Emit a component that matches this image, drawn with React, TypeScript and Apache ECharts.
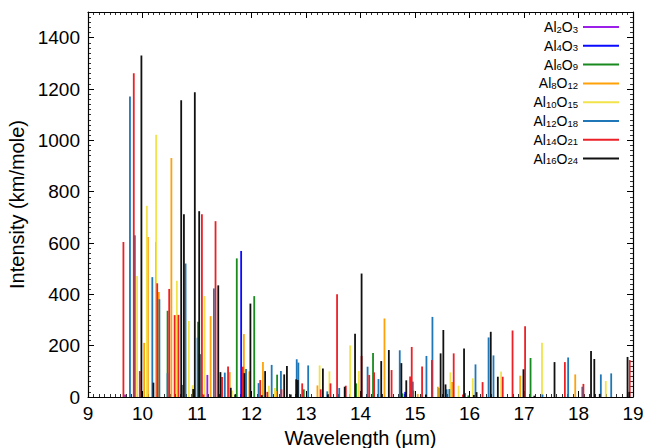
import React, { useEffect, useRef } from "react";
import * as echarts from "echarts";

const FONT = "'Liberation Sans', Arial, Helvetica, sans-serif";

const seriesNames = ["Al2O3", "Al4O3", "Al6O9", "Al8O12", "Al10O15", "Al12O18", "Al14O21", "Al16O24"];
const seriesColors = ["#9b1fe8", "#0a0aff", "#188a1e", "#ffa20a", "#f2e34a", "#1f77b8", "#ec2127", "#111111"];

const xTicks = { min: 9, max: 19, interval: 1 };
const yTicks = { min: 0, max: 1500, interval: 200 };

const al2o3: number[][] = [[9.68, 10], [11.19, 86]];
const al4o3: number[][] = [[11.81, 569], [14.82, 20]];
const al6o9: number[][] = [
  [10.25, 604], [10.46, 336], [11.02, 293], [11.73, 540], [12.05, 393], [12.47, 87], [12.96, 30],
  [13.92, 53], [14.23, 171], [14.77, 14], [14.97, 25], [15.43, 35], [15.98, 6], [17.12, 152],
];
const al8o12: number[][] = [
  [10.03, 211], [10.1, 623], [10.3, 409], [10.53, 931], [11.25, 315], [11.6, 97], [11.86, 245],
  [11.96, 100], [12.21, 136], [12.45, 23], [13.21, 45], [14.44, 306], [15.05, 12], [15.42, 40],
  [15.68, 58], [16.93, 83], [17.94, 88],
];
const al10o15: number[][] = [
  [9.9, 471], [10.08, 745], [10.25, 1022], [10.63, 453], [10.85, 296], [10.92, 46], [11.14, 393],
  [11.64, 25], [12.32, 44], [12.43, 35], [13.25, 123], [13.43, 100], [13.81, 201], [13.97, 101],
  [15.65, 96], [15.8, 44], [16.06, 73], [16.58, 99], [17.33, 211], [18.5, 62],
];
const al12o18: number[][] = [
  [9.77, 1171], [9.86, 630], [10.18, 467], [10.31, 381], [10.46, 93], [10.79, 520], [11.01, 231],
  [11.31, 423], [11.51, 95], [11.9, 109], [12.13, 54], [12.37, 125], [12.54, 101], [12.83, 147],
  [12.86, 134], [13.04, 123], [13.39, 22], [13.61, 35], [14.13, 118], [14.33, 70], [14.72, 182],
  [14.96, 60], [15.21, 160], [15.32, 312], [15.58, 30], [15.63, 31], [15.92, 15], [16.11, 127],
  [16.35, 232], [16.44, 162], [17.34, 10], [17.81, 154], [18.07, 40], [18.41, 88], [18.6, 92],
];
const al14o21: number[][] = [
  [9.65, 604], [9.84, 1261], [9.95, 101], [10.27, 443], [10.49, 421], [10.59, 319], [10.66, 320],
  [11.09, 712], [11.12, 10], [11.34, 685], [11.46, 78], [11.57, 119], [11.84, 118], [12.16, 66],
  [12.29, 20], [12.55, 30], [12.93, 53], [13.27, 30], [13.45, 53], [13.57, 400], [13.73, 44],
  [14.02, 160], [14.16, 86], [14.25, 96], [14.57, 105], [14.91, 80], [14.94, 195], [15.13, 119],
  [15.31, 144], [15.71, 170], [15.88, 10], [16.24, 58], [16.61, 79], [16.79, 259], [17.02, 276],
  [17.75, 136], [18.09, 51], [18.94, 144],
];
const al16o24: number[][] = [
  [9.98, 1331], [10.2, 56], [10.71, 1156], [10.72, 47], [10.76, 712], [10.93, 31], [10.96, 1187],
  [11.04, 724], [11.05, 167], [11.39, 435], [11.43, 97], [11.62, 36], [11.7, 10], [11.87, 93],
  [11.98, 364], [12.19, 7], [12.25, 101], [12.6, 88], [12.65, 121], [12.72, 10], [12.82, 69],
  [12.85, 66], [13.31, 111], [13.4, 10], [13.71, 40], [13.9, 246], [14.02, 481], [14.38, 140],
  [14.52, 183], [14.75, 132], [14.84, 65], [15.2, 10], [15.47, 170], [15.52, 261], [15.56, 49],
  [15.9, 189], [16.08, 8], [16.13, 19], [16.39, 254], [16.52, 79], [16.99, 108], [17.19, 5],
  [17.56, 136], [18.23, 179], [18.29, 148], [18.39, 12], [18.9, 156], [18.93, 20],
];

const seriesData = [al2o3, al4o3, al6o9, al8o12, al10o15, al12o18, al14o21, al16o24];

function formulaRich(name: string): string {
  const parts = name.match(/[A-Za-z]+|\d+/g) || [];
  return parts.map((p) => (/^\d+$/.test(p) ? `{s|${p}}` : `{n|${p}}`)).join("");
}

export default function App() {
  const ref = useRef<HTMLDivElement>(null);
  useEffect(() => {
    if (!ref.current) return;
    const chart = echarts.init(ref.current, undefined, { renderer: "svg" });
    const axisLine = { show: true, onZero: false, lineStyle: { color: "#000", width: 1.2 } };
    const tick = { show: true, inside: true, length: 6, lineStyle: { color: "#000", width: 1 } };
    const minor = { show: true, splitNumber: 10, length: 3, lineStyle: { color: "#000", width: 0.8 } };
    const labelStyle = { color: "#000", fontFamily: FONT, fontSize: 19 };
    const option: any = {
      animation: false,
      backgroundColor: "#fff",
      grid: { left: 88, right: 12, top: 12, bottom: 51, containLabel: false, outerBoundsMode: "none" },
      legend: {
        orient: "vertical",
        right: 26,
        top: 17,
        align: "right",
        padding: 0,
        itemGap: 1.8,
        itemWidth: 36,
        itemHeight: 2,
        icon: "rect",
        selectedMode: false,
        data: seriesNames,
        formatter: (name: string) => formulaRich(name),
        textStyle: {
          color: "#000",
          fontFamily: FONT,
          rich: {
            n: { fontSize: 14, lineHeight: 14, verticalAlign: "top", fontFamily: FONT, color: "#000" },
            s: { fontSize: 9.5, lineHeight: 10, verticalAlign: "bottom", padding: [7, 0, 0, 0], fontFamily: FONT, color: "#000" },
          },
        },
      },
      xAxis: [
        {
          type: "value",
          min: xTicks.min,
          max: xTicks.max,
          interval: xTicks.interval,
          position: "bottom",
          axisLine,
          axisTick: tick,
          minorTick: minor,
          splitLine: { show: false },
          axisLabel: { ...labelStyle, margin: 7, formatter: (v: number) => String(v) },
          name: "Wavelength (\u00b5m)",
          nameLocation: "middle",
          nameGap: 28,
          nameTextStyle: { color: "#000", fontFamily: FONT, fontSize: 20 },
        },
        {
          type: "value",
          min: xTicks.min,
          max: xTicks.max,
          interval: xTicks.interval,
          position: "top",
          axisLine,
          axisTick: tick,
          minorTick: minor,
          splitLine: { show: false },
          axisLabel: { show: false },
        },
      ],
      yAxis: [
        {
          type: "value",
          min: yTicks.min,
          max: yTicks.max,
          interval: yTicks.interval,
          position: "left",
          axisLine,
          axisTick: tick,
          minorTick: minor,
          splitLine: { show: false },
          axisLabel: { ...labelStyle, margin: 8, showMaxLabel: false, formatter: (v: number) => String(v) },
          name: "Intensity (km/mole)",
          nameLocation: "middle",
          nameGap: 58,
          nameTextStyle: { color: "#000", fontFamily: FONT, fontSize: 20 },
        },
        {
          type: "value",
          min: yTicks.min,
          max: yTicks.max,
          interval: yTicks.interval,
          position: "right",
          axisLine,
          axisTick: tick,
          minorTick: minor,
          splitLine: { show: false },
          axisLabel: { show: false },
        },
      ],
      series: seriesNames.map((name, i) => ({
        name,
        type: "custom",
        xAxisIndex: 0,
        yAxisIndex: 0,
        clip: true,
        itemStyle: { color: seriesColors[i] },
        data: seriesData[i],
        renderItem: (params: any, api: any) => {
          const x = api.value(0);
          const y = api.value(1);
          const top = api.coord([x, y]);
          const base = api.coord([x, 0]);
          return {
            type: "rect",
            shape: { x: top[0] - 0.9, y: top[1], width: 1.8, height: base[1] - top[1] },
            style: { fill: seriesColors[i] },
          };
        },
      })),
    };
    chart.setOption(option);
    return () => chart.dispose();
  }, []);
  return <div ref={ref} style={{ width: 645, height: 448, position: "absolute", left: 0, top: 0 }} />;
}
